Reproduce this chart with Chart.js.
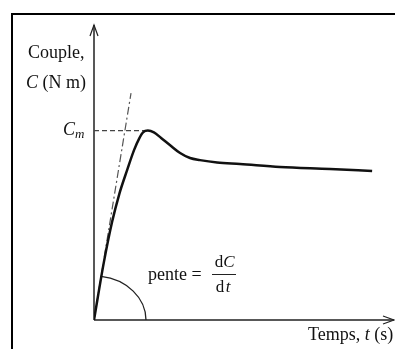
<!DOCTYPE html>
<html>
<head>
<meta charset="utf-8">
<script src="https://cdn.jsdelivr.net/npm/chart.js@4.4.1/dist/chart.umd.min.js"></script>
<style>
    html, body { margin: 0; padding: 0; background: #fff; }
    #torqueChart { display: block; }
</style>
</head>
<body>
<canvas id="torqueChart" width="395" height="349"></canvas>
<script>
// torque curve C(t) (arbitrary units)
var timeValues   = [0, 0.33, 0.60, 0.84, 1.10, 1.33, 1.50, 1.63, 1.79, 1.99, 2.23, 2.52, 2.86, 3.19, 3.52, 4.09, 4.85, 6.18, 7.84, 9.24];
var torqueValues = [0, 1.97, 3.32, 4.27, 5.08, 5.76, 6.15, 6.36, 6.42, 6.36, 6.17, 5.93, 5.66, 5.49, 5.42, 5.34, 5.29, 5.19, 5.12, 5.05];

// tangent at the origin (slope dC/dt)
var tangentT = [0, 1.23];
var tangentC = [0, 7.69];

// peak torque Cm
var peakT = [0, 1.79];
var peakC = [6.42, 6.42];

var axisMax = [10, 10];

function toPoints(xs, ys) {
    var pts = [];
    for (var i = 0; i < xs.length; i++) {
        pts.push({ x: xs[i], y: ys[i] });
    }
    return pts;
}

var SERIF = '"Liberation Serif", "DejaVu Serif", serif';

// axes with arrows, frame, arc and labels
var decorPlugin = {
    id: 'decor',
    beforeDatasetsDraw: function (chart) {
        var ctx = chart.ctx;
        var xs = chart.scales.x, ys = chart.scales.y;
        var x0 = xs.getPixelForValue(0), y0 = ys.getPixelForValue(0);
        var xEnd = chart.chartArea.right - 1, yEnd = chart.chartArea.top;

        ctx.save();
        // frame
        ctx.strokeStyle = '#000';
        ctx.lineWidth = 2;
        ctx.beginPath();
        ctx.moveTo(12, 349);
        ctx.lineTo(12, 14);
        ctx.lineTo(395, 14);
        ctx.stroke();

        // axes
        ctx.strokeStyle = '#222';
        ctx.lineWidth = 1.5;
        ctx.beginPath();
        ctx.moveTo(x0, y0);
        ctx.lineTo(x0, yEnd);
        ctx.moveTo(x0, y0);
        ctx.lineTo(xEnd, y0);
        ctx.stroke();
        ctx.lineWidth = 1.2;
        ctx.beginPath();
        ctx.moveTo(x0 - 4, yEnd + 11);
        ctx.lineTo(x0, yEnd);
        ctx.lineTo(x0 + 4, yEnd + 11);
        ctx.moveTo(xEnd - 11, y0 - 4);
        ctx.lineTo(xEnd, y0);
        ctx.lineTo(xEnd - 11, y0 + 4);
        ctx.stroke();

        // angle arc between the x axis and the tangent
        var tx = xs.getPixelForValue(tangentT[1]) - x0;
        var ty = ys.getPixelForValue(tangentC[1]) - y0;
        var rx = 52, ry = 44;
        var a = Math.atan2(ty / ry, tx / rx);
        ctx.lineWidth = 1.3;
        ctx.beginPath();
        ctx.ellipse(x0, y0, rx, ry, 0, a, 0);
        ctx.stroke();
        ctx.restore();
    },
    afterDraw: function (chart) {
        var ctx = chart.ctx;
        ctx.save();
        ctx.fillStyle = '#111';
        ctx.textBaseline = 'alphabetic';
        ctx.textAlign = 'left';

        ctx.font = '18px ' + SERIF;
        ctx.fillText('Couple,', 28, 58);

        ctx.font = 'italic 18px ' + SERIF;
        ctx.fillText('C', 26, 88);
        var w = ctx.measureText('C').width;
        ctx.font = '18px ' + SERIF;
        ctx.fillText(' (N m)', 26 + w, 88);

        ctx.font = 'italic 18px ' + SERIF;
        ctx.fillText('C', 63, 135);
        ctx.font = 'italic 13px ' + SERIF;
        ctx.fillText('m', 75, 138);

        ctx.font = '18px ' + SERIF;
        ctx.fillText('pente =', 148, 280);
        ctx.textAlign = 'center';
        ctx.font = '17px ' + SERIF;
        ctx.fillText('d', 219, 267);
        ctx.font = 'italic 17px ' + SERIF;
        ctx.fillText('C', 229, 267);
        ctx.font = '17px ' + SERIF;
        ctx.fillText('d', 220, 292);
        ctx.font = 'italic 17px ' + SERIF;
        ctx.fillText('t', 228, 292);
        ctx.strokeStyle = '#222';
        ctx.lineWidth = 1;
        ctx.beginPath();
        ctx.moveTo(212, 274.5);
        ctx.lineTo(236, 274.5);
        ctx.stroke();

        ctx.textAlign = 'left';
        ctx.font = '18px ' + SERIF;
        ctx.fillText('Temps, ', 308, 340);
        var w1 = ctx.measureText('Temps, ').width;
        ctx.font = 'italic 18px ' + SERIF;
        ctx.fillText('t', 308 + w1, 340);
        var w2 = ctx.measureText('t').width;
        ctx.font = '18px ' + SERIF;
        ctx.fillText(' (s)', 308 + w1 + w2, 340);
        ctx.restore();
    }
};

var ctx = document.getElementById('torqueChart');
var torqueChart = new Chart(ctx, {
    type: 'scatter',
    data: {
        datasets: [{
            label: 'C(t)',
            data: toPoints(timeValues, torqueValues),
            showLine: true,
            borderColor: '#111',
            borderWidth: 2.5,
            pointRadius: 0,
            cubicInterpolationMode: 'monotone'
        }, {
            label: 'tangente',
            data: toPoints(tangentT, tangentC),
            showLine: true,
            borderColor: '#555',
            borderWidth: 1.2,
            borderDash: [8, 3, 2, 3],
            pointRadius: 0
        }, {
            label: 'Cm',
            data: toPoints(peakT, peakC),
            showLine: true,
            borderColor: '#444',
            borderWidth: 1.2,
            borderDash: [5, 3],
            pointRadius: 0
        }]
    },
    options: {
        responsive: false,
        animation: false,
        devicePixelRatio: 1,
        layout: { padding: { left: 94, right: 0, top: 25, bottom: 29 } },
        plugins: {
            legend: { display: false },
            tooltip: { enabled: false }
        },
        scales: {
            x: { type: 'linear', min: 0, max: axisMax[0], display: false },
            y: { type: 'linear', min: 0, max: axisMax[1], display: false }
        }
    },
    plugins: [decorPlugin]
});
</script>
</body>
</html>
